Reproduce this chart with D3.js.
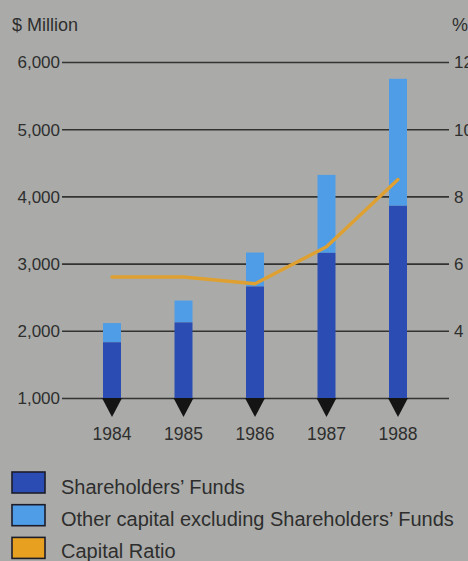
<!DOCTYPE html>
<html>
<head>
<meta charset="utf-8">
<script src="https://cdn.jsdelivr.net/npm/d3@7"></script>
<style>
  html, body { margin: 0; padding: 0; background: #aaaba8; }
  svg { display: block; }
  text { font-family: "Liberation Sans", Arial, sans-serif; fill: #2e2e2e; }
</style>
</head>
<body>
<svg id="chart" width="468" height="561"></svg>
<script>
// data
const years = ['1984', '1985', '1986', '1987', '1988'];
const shareholdersFunds = [1830, 2125, 2660, 3160, 3860];
const totalCapital = [2115, 2450, 3165, 4320, 5750];
const capitalRatio = [5.6, 5.6, 5.4, 6.5, 8.5];
const leftTicks = [1000, 2000, 3000, 4000, 5000, 6000];
const rightTicks = [4, 6, 8, 10, 12];
const legendLabels = ["Shareholders\u2019 Funds", "Other capital excluding Shareholders\u2019 Funds", "Capital Ratio"];

const width = 468, height = 561;
const colors = { dark: '#2b4db3', light: '#4e9de6', ratio: '#dfa032' };

const svg = d3.select('#chart');

// scales
const x = d3.scalePoint().domain(years).range([112, 398]);
const y = d3.scaleLinear().domain([1000, 6000]).range([398, 62]);
const y2 = d3.scaleLinear().domain([2, 12]).range([398, 62]);

const barW = 18;

// axis titles
svg.append('text').attr('x', 12).attr('y', 31).style('font-size', '18px').text('$ Million');
svg.append('text').attr('x', 452).attr('y', 31).style('font-size', '18px').text('%');

// left axis with grid lines
const left = svg.append('g')
    .attr('transform', 'translate(62,0)')
    .call(d3.axisLeft(y).tickValues(leftTicks).tickFormat(d3.format(',')).tickSize(-387).tickPadding(2));
left.select('.domain').remove();
left.selectAll('.tick line').attr('stroke', '#333').attr('stroke-width', 1.6);
left.selectAll('.tick text')
    .style('font-size', '17px').attr('fill', '#3a3a3a')
    .attr('dy', '0.35em');

// right axis labels (cut by the right edge, as in the source)
const right = svg.append('g')
    .attr('transform', 'translate(449,0)')
    .call(d3.axisRight(y2).tickValues(rightTicks).tickSize(0).tickPadding(5));
right.select('.domain').remove();
right.selectAll('.tick text')
    .style('font-size', '17px').attr('fill', '#3a3a3a')
    .attr('dy', '0.35em');

// stacked bars
const bars = svg.append('g');
bars.selectAll('rect.other')
    .data(years)
    .join('rect')
    .attr('class', 'other')
    .attr('x', d => x(d) - barW / 2)
    .attr('width', barW)
    .attr('y', (d, i) => y(totalCapital[i]))
    .attr('height', (d, i) => y(shareholdersFunds[i]) - y(totalCapital[i]))
    .attr('fill', colors.light);

bars.selectAll('rect.sh')
    .data(years)
    .join('rect')
    .attr('class', 'sh')
    .attr('x', d => x(d) - barW / 2)
    .attr('width', barW)
    .attr('y', (d, i) => y(shareholdersFunds[i]))
    .attr('height', (d, i) => y(1000) - y(shareholdersFunds[i]))
    .attr('fill', colors.dark);

// black pointers under each bar
bars.selectAll('path.pointer')
    .data(years)
    .join('path')
    .attr('class', 'pointer')
    .attr('d', d => {
        const cx = x(d), top = y(1000);
        return `M${cx - 10},${top} L${cx + 10},${top} L${cx},${top + 19} Z`;
    })
    .attr('fill', '#141414');

// year labels
svg.append('g').selectAll('text')
    .data(years)
    .join('text')
    .attr('x', d => x(d))
    .attr('y', 440)
    .attr('text-anchor', 'middle')
    .style('font-size', '17.5px')
    .attr('fill', '#3a3a3a')
    .text(d => d);

// capital ratio line
const line = d3.line()
    .x((d, i) => x(years[i]))
    .y(d => y2(d));

svg.append('path')
    .datum(capitalRatio)
    .attr('d', line)
    .attr('fill', 'none')
    .attr('stroke', colors.ratio)
    .attr('stroke-width', 3.4)
    .attr('stroke-linejoin', 'round')
    .attr('stroke-linecap', 'round');

// legend
const legendFill = [colors.dark, colors.light, '#e8a020'];
const legend = svg.append('g');
legend.selectAll('rect')
    .data(legendLabels)
    .join('rect')
    .attr('x', 12)
    .attr('y', (d, i) => 472 + i * 32.7)
    .attr('width', 33)
    .attr('height', 21)
    .attr('fill', (d, i) => legendFill[i])
    .attr('stroke', '#1d1d2a')
    .attr('stroke-width', 1.6);

legend.selectAll('text')
    .data(legendLabels)
    .join('text')
    .attr('x', 61)
    .attr('y', (d, i) => 494 + i * 32)
    .style('font-size', '20px')
    .attr('fill', '#2a2a2a')
    .text(d => d);
</script>
</body>
</html>
